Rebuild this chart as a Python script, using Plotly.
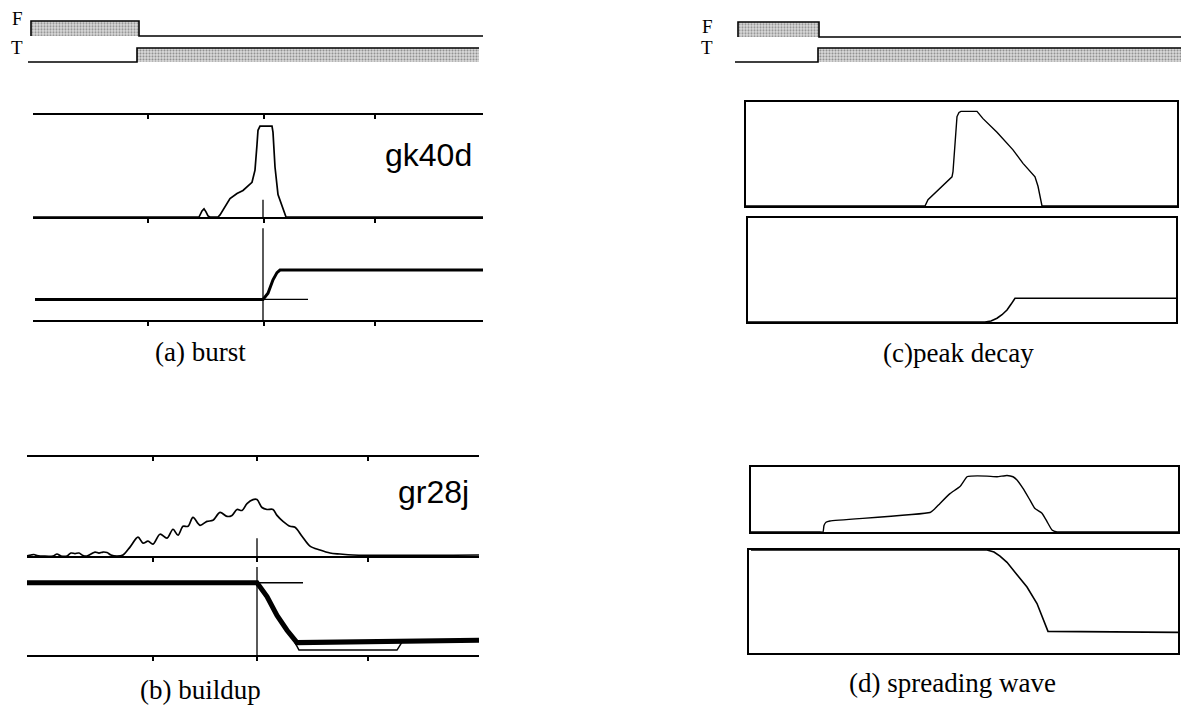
import plotly.graph_objects as go

W, H = 1181, 706

# ---------------- data (time steps, normalised levels) ----------------
# (a) burst : stimulus timeline
a_F_t = [-2, -2, 106, 106, 450]
a_F_v = [0, 1, 1, 0, 0]
a_T_t = [-5, 104, 104, 446]
a_T_v = [0, 0, 1, 1]
# (a) activity (gk40d)
a_act_t = [0, 166, 169, 171, 173, 175, 177, 185, 187, 192, 197, 204, 210,
           219, 222, 224, 225, 227, 239, 240, 242, 245, 250, 253, 450]
a_act_v = [0, 0, 0.06, 0.08, 0.05, 0.01, 0, 0, 0.02, 0.10, 0.18, 0.23, 0.26,
           0.34, 0.46, 0.71, 0.85, 0.89, 0.89, 0.83, 0.49, 0.22, 0.07, 0, 0]
# (a) state
a_state_t = [2, 230, 235, 240, 244, 247, 450]
a_state_v = [0.2, 0.2, 0.26, 0.39, 0.46, 0.485, 0.485]
a_switch_t = 230
a_ticks = [115, 231, 342]

# (b) buildup : activity (gr28j)
b_act_t = [0, 4, 7, 10, 26, 30, 34, 40, 44, 48, 52, 56, 60, 64, 68, 72, 76, 80,
           84, 90, 96, 103, 111, 116, 121, 126, 133, 140, 146, 151, 156, 161,
           166, 173, 180, 186, 193, 200, 205, 210, 215, 220, 226, 230, 235, 240,
           246, 250, 256, 263, 268, 275, 283, 293, 303, 313, 326, 452]
b_act_v = [0.0, 0.01, 0.015, 0.005, 0.0, 0.02, 0.0, 0.0, 0.03, 0.025, 0.03,
           0.005, 0.0, 0.02, 0.04, 0.03, 0.04, 0.035, 0.01, 0.0, 0.01, 0.09,
           0.19, 0.13, 0.15, 0.12, 0.22, 0.18, 0.27, 0.21, 0.30, 0.30, 0.39,
           0.31, 0.35, 0.36, 0.44, 0.40, 0.41, 0.47, 0.46, 0.53, 0.57, 0.57,
           0.49, 0.47, 0.47, 0.41, 0.35, 0.30, 0.29, 0.20, 0.10, 0.06, 0.03,
           0.02, 0.01, 0.01]
b_state_t = [0, 230, 240, 250, 260, 270, 452]
b_state_v = [0.73, 0.73, 0.59, 0.40, 0.25, 0.125, 0.15]
b_state2_t = [268, 272, 370, 375]
b_state2_v = [0.125, 0.05, 0.05, 0.13]
b_switch_t = 230
b_ticks = [126, 230, 341]

# (c) peak decay : stimulus timeline
c_F_t = [-8, -8, 73, 73, 435]
c_F_v = [0, 1, 1, 0, 0]
c_T_t = [-11, 72, 72, 435]
c_T_v = [0, 0, 1, 1]
c_act_t = [0, 179, 182, 194, 206, 207, 209, 211, 213, 215,
           231, 237, 251, 267, 277, 289, 292, 296, 431]
c_act_v = [0, 0, 0.06, 0.17, 0.28, 0.33, 0.64, 0.86, 0.90, 0.91,
           0.91, 0.84, 0.71, 0.54, 0.41, 0.28, 0.19, 0, 0]
c_state_t = [2, 239, 245, 251, 256, 261, 265, 269, 430]
c_state_v = [0, 0, 0.01, 0.036, 0.07, 0.115, 0.17, 0.228, 0.228]

# (d) spreading wave
d_act_t = [0, 30, 60, 68, 72, 73, 75, 79, 179, 184, 189, 199, 209, 216, 220,
           236, 246, 256, 262, 266, 272, 279, 284, 291, 296, 301, 306, 312,
           360, 427]
d_act_v = [0, 0, 0, 0, 0, 0.1, 0.15, 0.17, 0.30, 0.36, 0.44, 0.59, 0.70, 0.85,
           0.86, 0.86, 0.85, 0.87, 0.85, 0.80, 0.67, 0.49, 0.36, 0.29, 0.16,
           0.03, 0, 0, 0, 0]
d_state_t = [0, 236, 243, 249, 256, 262, 269, 276, 286, 297, 427]
d_state_v = [1, 1, 0.98, 0.94, 0.88, 0.81, 0.73, 0.64, 0.48, 0.21, 0.2]

captions = ["(a) burst", "(b) buildup", "(c)peak decay", "(d) spreading wave"]
names = ["gk40d", "gr28j"]

# ---------------- figure helpers ----------------
fig = go.Figure()
layout = {}
count = [0]


def add_axes(xpx, ypx, xr, yr, xkw=None, ykw=None):
    count[0] += 1
    n = count[0]
    xa = 'xaxis' if n == 1 else f'xaxis{n}'
    ya = 'yaxis' if n == 1 else f'yaxis{n}'
    xref = 'x' if n == 1 else f'x{n}'
    yref = 'y' if n == 1 else f'y{n}'
    base = dict(showgrid=False, zeroline=False, showticklabels=False,
                ticks='', showline=False, fixedrange=True)
    xd = dict(base, domain=[xpx[0] / W, xpx[1] / W], range=list(xr), anchor=yref)
    yd = dict(base, domain=[1 - ypx[1] / H, 1 - ypx[0] / H], range=list(yr), anchor=xref)
    if xkw:
        xd.update(xkw)
    if ykw:
        yd.update(ykw)
    layout[xa] = xd
    layout[ya] = yd
    return xref, yref


LINE = dict(showline=True, linecolor='black', linewidth=1.8)


def ticks(vals, where):
    return dict(LINE, ticks=where, ticklen=4, tickwidth=1.5, tickcolor='black',
                tickmode='array', tickvals=vals)


def line(t, v, ax, width=1.5, shape='linear', smoothing=1.0):
    fig.add_trace(go.Scatter(x=t, y=v, xaxis=ax[0], yaxis=ax[1], mode='lines',
                             line=dict(color='black', width=width, shape=shape,
                                       smoothing=smoothing),
                             hoverinfo='skip'))


PATTERN = dict(shape='.', fgcolor='#3c3c3c', bgcolor='#dcdcdc', size=3, solidity=0.4)


def bar(t, v, ax):
    fig.add_trace(go.Scatter(x=t, y=v, xaxis=ax[0], yaxis=ax[1], mode='lines',
                             fill='tozeroy', fillcolor='#c8c8c8', fillpattern=PATTERN,
                             line=dict(color='black', width=1.6), hoverinfo='skip'))


# ---------------- panel (a) ----------------
axF = add_axes((28, 483), (18.75, 38.25), (-5, 450), (-0.15, 1.15))
axT = add_axes((28, 483), (45.9, 64.1), (-5, 450), (-0.15, 1.15))
bar(a_F_t, a_F_v, axF)
bar(a_T_t, a_T_v, axT)

axA = add_axes((33, 483), (115, 217), (0, 450), (0, 1), xkw=ticks(a_ticks, 'outside'))
axA2 = add_axes((33, 483), (115, 217), (0, 450), (0, 1),
                xkw=dict(ticks(a_ticks, 'inside'), side='top'))
axS = add_axes((33, 483), (217, 320), (0, 450), (0, 1), xkw=ticks(a_ticks, 'outside'))
line(a_act_t, a_act_v, axA2, 1.7)
line([a_switch_t, a_switch_t], [0.17, 0], axA, 1.3)
line(a_state_t, a_state_v, axS, 3)
line([a_switch_t, a_switch_t], [0.89, -0.05], axS, 1.3)
line([a_switch_t, 275], [0.2, 0.2], axS, 1.3)

# ---------------- panel (b) ----------------
axA = add_axes((27, 479), (457, 556), (0, 452), (0, 1), xkw=ticks(b_ticks, 'outside'))
axA2 = add_axes((27, 479), (457, 556), (0, 452), (0, 1),
                xkw=dict(ticks(b_ticks, 'inside'), side='top'))
axS = add_axes((27, 479), (556, 655), (0, 452), (0, 1), xkw=ticks(b_ticks, 'outside'))
line(b_act_t, b_act_v, axA2, 1.7, shape='spline', smoothing=0.9)
line([b_switch_t, b_switch_t], [0.18, 0], axA, 1.3)
line(b_state_t, b_state_v, axS, 5)
line(b_state2_t, b_state2_v, axS, 1.5)
line([b_switch_t, b_switch_t], [0.89, -0.05], axS, 1.3)
line([b_switch_t, 276], [0.73, 0.73], axS, 1.3)

# ---------------- panel (c) ----------------
axF = add_axes((735, 1181), (19.75, 39.25), (-11, 435), (-0.15, 1.15))
axT = add_axes((735, 1181), (45.9, 64.1), (-11, 435), (-0.15, 1.15))
bar(c_F_t, c_F_v, axF)
bar(c_T_t, c_T_v, axT)
BOX = dict(LINE, mirror=True)
axA = add_axes((746, 1177), (102, 206), (0, 431), (0, 1), xkw=BOX, ykw=BOX)
axS = add_axes((748, 1176), (218, 322), (2, 430), (0, 1), xkw=BOX, ykw=BOX)
line(c_act_t, c_act_v, axA, 1.4)
line(c_state_t, c_state_v, axS, 1.6)

# ---------------- panel (d) ----------------
axA = add_axes((751, 1178), (467, 532), (0, 427), (0, 1), xkw=BOX, ykw=BOX)
axS = add_axes((749, 1178), (550, 653), (-2, 427), (0, 1), xkw=BOX, ykw=BOX)
line(d_act_t, d_act_v, axA, 1.4, shape='spline', smoothing=0.4)
line(d_state_t, d_state_v, axS, 1.6)

# ---------------- text ----------------
SERIF = "Liberation Serif, Times New Roman, serif"
SANS = "Liberation Sans, Arial, sans-serif"
ann = []


def text(s, x, y, size, family, anchor='center'):
    ann.append(dict(text=s, x=x / W, y=1 - y / H, xref='paper', yref='paper',
                    showarrow=False, xanchor=anchor, yanchor='middle',
                    font=dict(family=family, size=size, color='black')))


text("F", 17, 18, 19, SERIF)
text("T", 17, 48, 19, SERIF)
text("F", 707, 27, 19, SERIF)
text("T", 707, 48, 19, SERIF)
text(names[0], 428, 155, 32, SANS)
text(names[1], 433, 492, 32, SANS)
text(captions[0], 200, 352, 27, SERIF)
text(captions[1], 200, 690, 27, SERIF)
text(captions[2], 958, 353, 27, SERIF)
text(captions[3], 952, 683, 27, SERIF)

layout.update(width=W, height=H, margin=dict(l=0, r=0, t=0, b=0),
              paper_bgcolor='white', plot_bgcolor='rgba(0,0,0,0)',
              showlegend=False, annotations=ann)
fig.update_layout(**layout)
fig.write_html("out.html")
